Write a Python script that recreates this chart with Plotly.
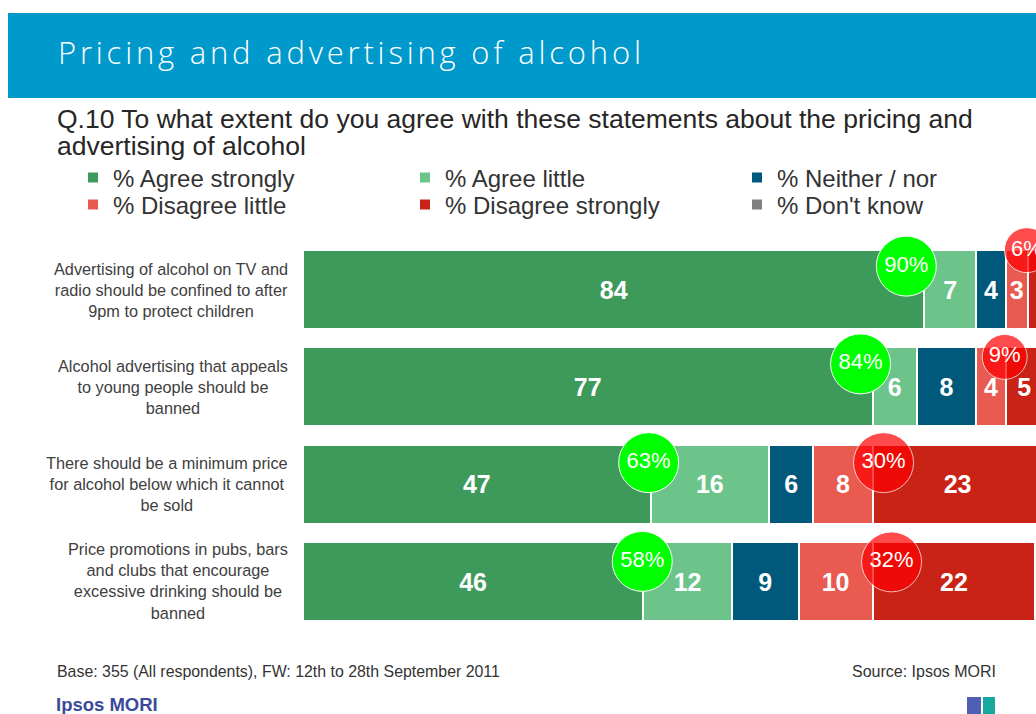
import plotly.graph_objects as go

# ---- data -------------------------------------------------------------
statements = [
    "Advertising of alcohol on TV and<br>radio should be confined to after<br>9pm to protect children",
    "Alcohol advertising that appeals<br>to young people should be<br>banned",
    "There should be a minimum price<br>for alcohol below which it cannot<br>be sold",
    "Price promotions in pubs, bars<br>and clubs that encourage<br>excessive drinking should be<br>banned",
]
agree_strongly = [84, 77, 47, 46]
agree_little = [7, 6, 16, 12]
neither_nor = [4, 8, 6, 9]
disagree_little = [3, 4, 8, 10]
disagree_strongly = [3, 5, 23, 22]
dont_know = [0, 0, 0, 0]
agree_total = [90, 84, 63, 58]
disagree_total = [6, 9, 30, 32]

series_names = ["% Agree strongly", "% Agree little", "% Neither / nor",
                "% Disagree little", "% Disagree strongly", "% Don't know"]

# ---- styling ----------------------------------------------------------
series_colors = ["#3e9a5b", "#6dc48b", "#00587a", "#e95a51", "#c92317", "#808080"]
FONT = "Liberation Sans, Arial, sans-serif"
W, H = 1036, 714
L, R, T, B = 303, 0, 241, 84
PW, PH = W - L - R, H - T - B
X_MAX = 99.1
ROW_PX = PH / 4.0
LABEL_DY = 3  # px, nudges the bold segment labels onto the bar's optical centre


def px_x(px):
    return (px - L) / PW


def px_y(py):
    return (H - B - py) / PH


def units_x(dpx):
    return dpx * X_MAX / PW


def units_y(dpx):
    return dpx / ROW_PX


rows = list(range(len(statements)))
series = [agree_strongly, agree_little, neither_nor,
          disagree_little, disagree_strongly, dont_know]

fig = go.Figure()

# stacked segments
for k, (name, vals, col) in enumerate(zip(series_names, series, series_colors)):
    fig.add_trace(go.Bar(
        y=rows, x=vals, name=name, orientation="h",
        marker=dict(color=col, line=dict(color="white", width=2)),
        width=0.812, textposition="none",
        legend="legend" if k == 0 else f"legend{k + 1}",
        hoverinfo="skip",
    ))

# segment value labels, centred on each segment (segments running past the
# right edge keep their label at the true centre)
lab_x, lab_y, lab_t = [], [], []
for r in rows:
    start = 0
    for vals in series:
        v = vals[r]
        if v:
            lab_x.append(start + v / 2)
            lab_y.append(r + units_y(LABEL_DY))
            lab_t.append(str(v))
        start += v
fig.add_trace(go.Scatter(
    x=lab_x, y=lab_y, text=lab_t, mode="text", textposition="middle center",
    textfont=dict(family=FONT, size=25, color="white", weight="bold"),
    showlegend=False, cliponaxis=True, hoverinfo="skip",
))

# summary bubbles: total agree and total disagree
green_dx = [-18, -12, -2, -1]
green_dy = [-23.5, -23, -21.5, -20]
red_dx = [-1, -1, 11, 19]
red_dy = [-39.5, -30, -21.5, -19.5]
red_size = [45, 45, 60, 60]

disagree_start = [a + b + c + d for a, b, c, d in
                  zip(agree_strongly, agree_little, neither_nor, disagree_little)]

fig.add_trace(go.Scatter(
    x=[v + units_x(d) for v, d in zip(agree_strongly, green_dx)],
    y=[r + units_y(d) for r, d in zip(rows, green_dy)],
    mode="markers+text",
    marker=dict(size=60, color="#00ff00", line=dict(color="white", width=1)),
    text=[f"{v}%" for v in agree_total], textposition="middle center",
    textfont=dict(family=FONT, size=22, color="white"),
    showlegend=False, cliponaxis=False, hoverinfo="skip",
))
fig.add_trace(go.Scatter(
    x=[v + units_x(d) for v, d in zip(disagree_start, red_dx)],
    y=[r + units_y(d) for r, d in zip(rows, red_dy)],
    mode="markers+text",
    marker=dict(size=red_size, color="#ff0000", line=dict(color="white", width=1)),
    text=[f"{v}%" for v in disagree_total], textposition="middle center",
    textfont=dict(family=FONT, size=22, color="white"),
    showlegend=False, cliponaxis=False, hoverinfo="skip",
))

annotations = []
for r, s in zip(rows, statements):
    annotations.append(dict(
        x=0, xref="paper", y=r, yref="y", xanchor="right", xshift=-13,
        yanchor="middle", align="center", text=s, showarrow=False,
        font=dict(family=FONT, size=16.3, color="#404040"),
    ))

title_text = ('<span style="letter-spacing:3.8px">'
              'Pricing and advertising of alcohol</span>')

annotations += [
    dict(x=px_x(56), y=px_y(52), xref="paper", yref="paper", xanchor="left",
         yanchor="middle", text=title_text, showarrow=False,
         font=dict(family="Open Sans, sans-serif", size=31, color="white",
                   weight=300)),
    dict(x=px_x(55), y=px_y(119), xref="paper", yref="paper", xanchor="left",
         yanchor="middle",
         text="Q.10 To what extent do you agree with these statements about the pricing and",
         showarrow=False, font=dict(family=FONT, size=26.5, color="#262626")),
    dict(x=px_x(55), y=px_y(146), xref="paper", yref="paper", xanchor="left",
         yanchor="middle", text="advertising of alcohol",
         showarrow=False, font=dict(family=FONT, size=26.5, color="#262626")),
    dict(x=px_x(55), y=px_y(671), xref="paper", yref="paper", xanchor="left",
         yanchor="middle",
         text="Base: 355 (All respondents), FW: 12th to 28th September 2011",
         showarrow=False, font=dict(family=FONT, size=15.9, color="#333333")),
    dict(x=px_x(998), y=px_y(671), xref="paper", yref="paper", xanchor="right",
         yanchor="middle", text="Source: Ipsos MORI",
         showarrow=False, font=dict(family=FONT, size=16, color="#333333")),
    dict(x=px_x(54), y=px_y(704), xref="paper", yref="paper", xanchor="left",
         yanchor="middle", text="<b>Ipsos MORI</b>",
         showarrow=False, font=dict(family=FONT, size=18.5, color="#3a4a9a")),
]

shapes = [
    dict(type="rect", xref="paper", yref="paper", x0=px_x(8), x1=1.0,
         y0=px_y(98), y1=px_y(13), fillcolor="#0099cc", line=dict(width=0),
         layer="below"),
    dict(type="rect", xref="paper", yref="paper", x0=px_x(967), x1=px_x(981),
         y0=px_y(714), y1=px_y(697), fillcolor="#4f5fb3", line=dict(width=0)),
    dict(type="rect", xref="paper", yref="paper", x0=px_x(983), x1=px_x(995),
         y0=px_y(714), y1=px_y(697), fillcolor="#17a89e", line=dict(width=0)),
]

# one legend per entry so the 3 x 2 grid can be placed freely
legend_pos = [(73, 178), (405, 178), (737, 178), (73, 205), (405, 205), (737, 205)]
legend_layout = {}
for k in range(6):
    key = "legend" if k == 0 else f"legend{k + 1}"
    lx, ly = legend_pos[k]
    legend_layout[key] = dict(
        x=px_x(lx), y=px_y(ly), xanchor="left", yanchor="middle",
        xref="paper", yref="paper", bgcolor="rgba(0,0,0,0)",
        font=dict(family=FONT, size=24, color="#333333"),
    )

fig.update_layout(
    width=W, height=H,
    margin=dict(l=L, r=R, t=T, b=B, pad=0),
    barmode="stack",
    plot_bgcolor="white", paper_bgcolor="white",
    xaxis=dict(range=[0, X_MAX], visible=False, fixedrange=True),
    yaxis=dict(range=[3.5, -0.5], visible=False, fixedrange=True),
    annotations=annotations,
    shapes=shapes,
    showlegend=True,
    **legend_layout,
)

fig.write_html("out.html")
